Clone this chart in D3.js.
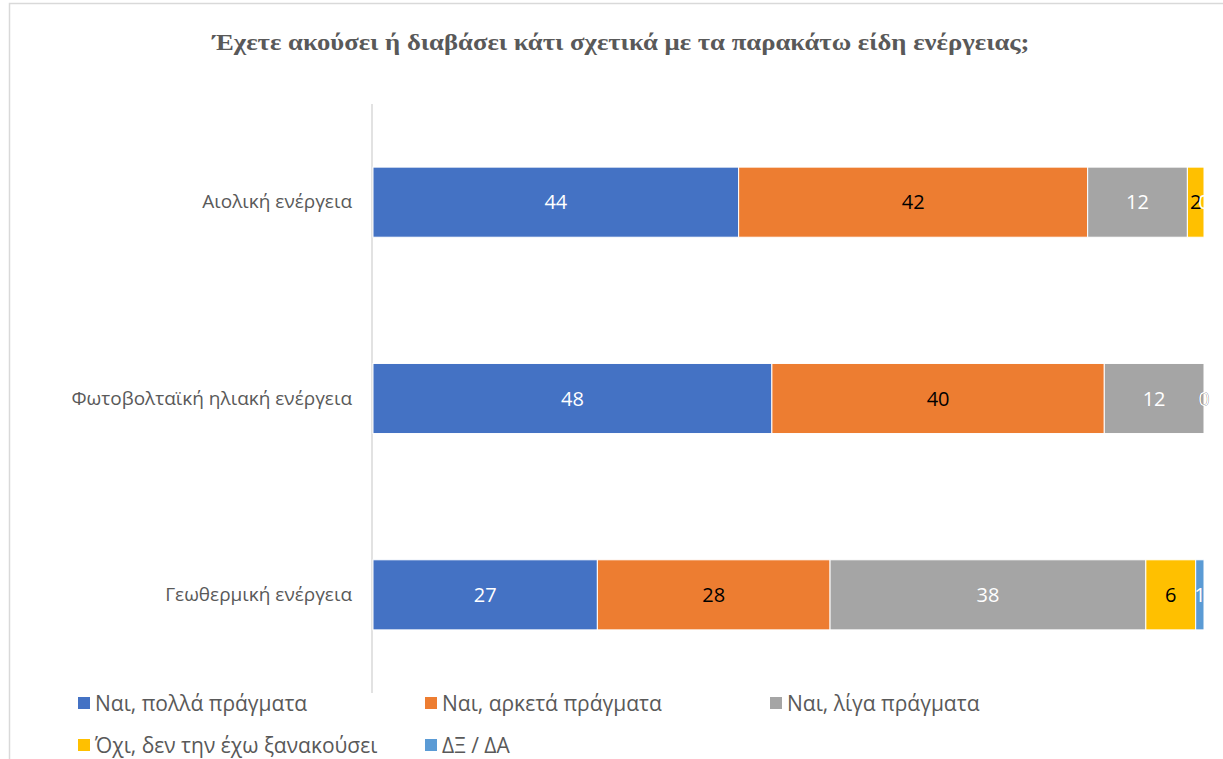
<!DOCTYPE html>
<html>
<head>
<meta charset="utf-8">
<script src="https://cdn.jsdelivr.net/npm/d3@7"></script>
<style>
  html, body { margin: 0; padding: 0; background: #fff; }
  svg { display: block; }
</style>
</head>
<body>
<svg id="chart" width="1223" height="759"></svg>
<script>
// Survey answers (%) per energy type
const categories = ["Αιολική ενέργεια", "Φωτοβολταϊκή ηλιακή ενέργεια", "Γεωθερμική ενέργεια"];
const seriesNames = ["Ναι, πολλά πράγματα", "Ναι, αρκετά πράγματα", "Ναι, λίγα πράγματα", "Όχι, δεν την έχω ξανακούσει", "ΔΞ / ΔΑ"];
const polla   = [44, 48, 27];
const arketa  = [42, 40, 28];
const liga    = [12, 12, 38];
const oxi     = [2, 0, 6];
const dxda    = [0, 0, 1];
const titleText = "Έχετε ακούσει ή διαβάσει κάτι σχετικά με τα παρακάτω είδη ενέργειας;";

const seriesValues = [polla, arketa, liga, oxi, dxda];
const colors = ["#4472C4", "#ED7D31", "#A5A5A5", "#FFC000", "#5B9BD5"];
const labelColors = ["#ffffff", "#000000", "#ffffff", "#000000", "#ffffff"];

const svg = d3.select("#chart");
const sansFont = "'Open Sans', 'Noto Sans', sans-serif";

// Outer chart frame
svg.append("rect")
  .attr("x", 9.5).attr("y", 3.5)
  .attr("width", 1400).attr("height", 900)
  .attr("fill", "#fff")
  .attr("stroke", "#d9d9d9").attr("stroke-width", 1.5);

// Title
svg.append("text")
  .attr("x", 621).attr("y", 50)
  .attr("text-anchor", "middle")
  .attr("font-family", "'Liberation Serif', 'Times New Roman', serif")
  .attr("font-weight", "bold")
  .attr("font-size", 24)
  .attr("fill", "#595959")
  .attr("textLength", 817)
  .attr("lengthAdjust", "spacingAndGlyphs")
  .text(titleText);

// Scales
const x = d3.scaleLinear().domain([0, 100]).range([373, 1204]);
const y = d3.scaleBand().domain(categories).range([104, 693])
  .paddingInner(0.643).paddingOuter(0.3215);

// Stacked layout
const rows = categories.map((c, i) => {
  const r = { category: c };
  seriesNames.forEach((s, j) => { r[s] = seriesValues[j][i]; });
  return r;
});
const stacked = d3.stack().keys(seriesNames)(rows);

// Category axis
const yAxis = svg.append("g")
  .attr("transform", `translate(${x(0) - 1},0)`)
  .call(d3.axisLeft(y).tickSize(0).tickPadding(20));
yAxis.select(".domain")
  .attr("d", `M0,104V693`)
  .attr("stroke", "#d9d9d9").attr("stroke-width", 1.5);
yAxis.selectAll(".tick text")
  .attr("font-family", sansFont)
  .attr("font-size", 19)
  .attr("fill", "#595959");

// Bars
const layers = svg.append("g").selectAll("g")
  .data(stacked).join("g")
  .attr("fill", (d, i) => colors[i]);

layers.selectAll("rect")
  .data(d => d.map(p => ({ p, cat: p.data.category })))
  .join("rect")
  .attr("x", d => x(d.p[0]))
  .attr("y", d => y(d.cat))
  .attr("width", d => x(d.p[1]) - x(d.p[0]))
  .attr("height", y.bandwidth())
  .attr("stroke", "#ffffff")
  .attr("stroke-width", 1);

// Value labels
const labelLayers = svg.append("g").selectAll("g")
  .data(stacked).join("g")
  .attr("fill", (d, i) => labelColors[i]);

labelLayers.selectAll("text")
  .data(d => d.map(p => ({ p, cat: p.data.category, v: p[1] - p[0] })))
  .join("text")
  .attr("x", d => (x(d.p[0]) + x(d.p[1])) / 2)
  .attr("y", d => y(d.cat) + y.bandwidth() / 2)
  .attr("dy", "0.36em")
  .attr("text-anchor", "middle")
  .attr("font-family", sansFont)
  .attr("font-size", 20)
  .text(d => d.v);

// Legend
const legendPos = [[78, 703], [425, 703], [770, 703], [78, 745], [425, 745]];
const legend = svg.append("g").selectAll("g")
  .data(seriesNames).join("g")
  .attr("transform", (d, i) => `translate(${legendPos[i][0]},${legendPos[i][1]})`);
legend.append("rect")
  .attr("x", 0).attr("y", -6)
  .attr("width", 12).attr("height", 12)
  .attr("fill", (d, i) => colors[i]);
legend.append("text")
  .attr("x", 17).attr("y", 0).attr("dy", "0.36em")
  .attr("font-family", sansFont)
  .attr("font-size", 21)
  .attr("fill", "#595959")
  .text(d => d);
</script>
</body>
</html>
